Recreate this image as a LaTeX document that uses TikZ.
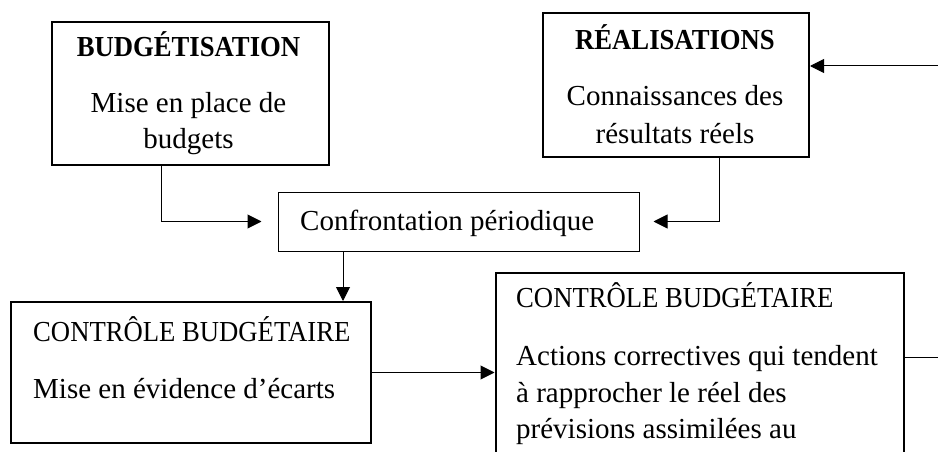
\documentclass[tikz,border=0pt]{standalone}
\usepackage{fontspec}
\setmainfont{Liberation Serif}
% slightly condensed face for the capital-letter headings
\newfontfamily\capsfont[FakeStretch=0.92]{Liberation Serif}
\usetikzlibrary{arrows.meta}
\begin{document}
\begin{tikzpicture}[x=1pt,y=-1pt,
  every node/.style={font=\fontsize{29}{36}\selectfont},
  bigbox/.style={draw,line width=2pt,inner sep=0pt,rectangle},
  thinbox/.style={draw,line width=1pt,inner sep=0pt,rectangle},
  txt/.style={inner sep=0pt,anchor=base},
  ltxt/.style={inner sep=0pt,anchor=base west},
  headb/.style={font=\capsfont\fontsize{29}{36}\selectfont\bfseries},
  head/.style={font=\capsfont\fontsize{29}{36}\selectfont},
  arr/.style={line width=1pt,-{Triangle[length=14pt,width=14pt]}},
  conn/.style={line width=1pt}]
\useasboundingbox (0,0) rectangle (938,452);
\clip (0,0) rectangle (938,452);

% boxes
\node[bigbox,minimum width=277pt,minimum height=143pt] (bud) at (190.5,93.5) {};
\node[bigbox,minimum width=266pt,minimum height=144pt] (rea) at (676,85) {};
\node[thinbox,minimum width=361pt,minimum height=59pt] (conf) at (458.5,221.5) {};
\node[bigbox,minimum width=360pt,minimum height=141pt] (ctl) at (191,372.5) {};
\node[bigbox,minimum width=408pt,minimum height=234pt] (act) at (699.5,390) {};

% texts
\node[txt,headb] (budT) at (188.5,57) {BUDGÉTISATION};
\node[txt] (budL1) at (188.5,113) {Mise en place de};
\node[txt] (budL2) at (188.5,149) {budgets};

\node[txt,headb] (reaT) at (675,50) {RÉALISATIONS};
\node[txt] (reaL1) at (675,106) {Connaissances des};
\node[txt] (reaL2) at (675,143) {résultats réels};

\node[ltxt] (confT) at (300,230) {Confrontation périodique};

\node[ltxt,head] (ctlT) at (33,341) {CONTRÔLE BUDGÉTAIRE};
\node[ltxt] (ctlL1) at (33,398) {Mise en évidence d’écarts};

\node[ltxt,head] (actT) at (516,307) {CONTRÔLE BUDGÉTAIRE};
\node[ltxt] (actL1) at (516,365) {Actions correctives qui tendent};
\node[ltxt] (actL2) at (516,402) {à rapprocher le réel des};
\node[ltxt] (actL3) at (516,438) {prévisions assimilées au};

% connectors
\coordinate (k1) at (161,221);
\coordinate (k2) at (719,221);
\coordinate (k3) at (343,0);
\coordinate (inR) at (938,66);
\coordinate (outR) at (938,357);

\draw[arr,shorten >=16pt] (k1 |- bud.south) |- (conf.west);
\draw[arr,shorten >=14pt] (k2 |- rea.south) |- (conf.east);
\draw[arr] (k3 |- conf.south) -- (k3 |- ctl.north);
\draw[arr] (ctl.east) -- (ctl.east -| act.west);
\draw[arr] (inR) -- (inR -| rea.east);
\draw[conn] (outR -| act.east) -- (outR);
\end{tikzpicture}
\end{document}
